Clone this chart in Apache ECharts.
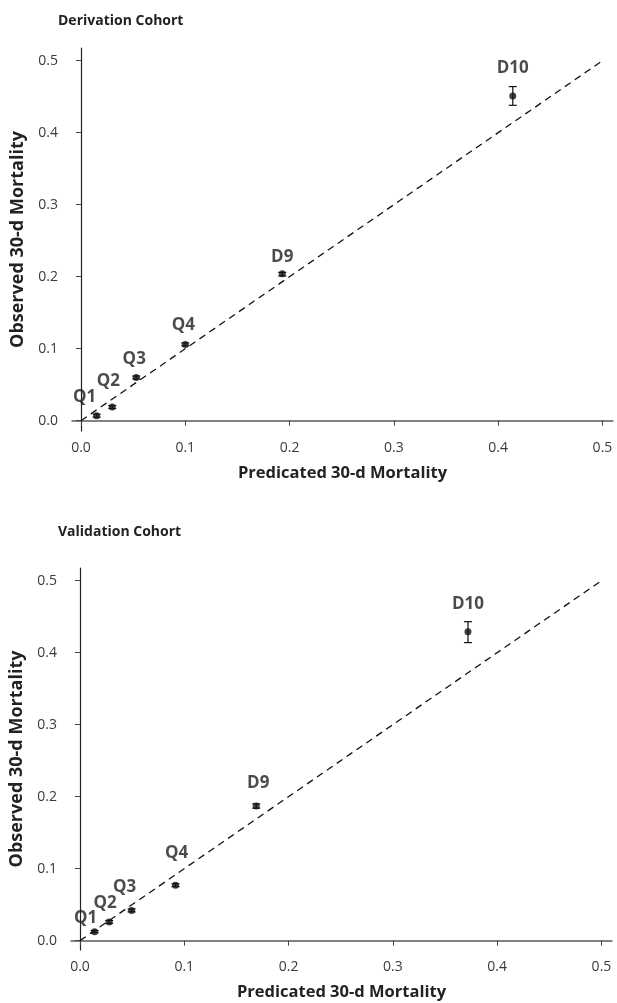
<!DOCTYPE html>
<html>
<head>
<meta charset="utf-8">
<script src="https://cdn.jsdelivr.net/npm/echarts@6/dist/echarts.min.js"></script>
<style>
html,body{margin:0;padding:0;background:#fff;}
#chart{width:617px;height:1003px;}
</style>
</head>
<body>
<div id="chart"></div>
<script>
const groups = ['Q1','Q2','Q3','Q4','D9','D10'];
const tickValues = [0, 0.1, 0.2, 0.3, 0.4, 0.5];
const identityLine = [[0,0],[0.5,0.5]];

const derivPred = [0.015, 0.030, 0.053, 0.100, 0.193, 0.414];
const derivObs  = [0.007, 0.019, 0.060, 0.106, 0.204, 0.451];
const derivLow  = [0.005, 0.017, 0.058, 0.104, 0.201, 0.438];
const derivHigh = [0.009, 0.021, 0.062, 0.108, 0.206, 0.464];

const validPred = [0.014, 0.028, 0.0495, 0.0916, 0.169, 0.372];
const validObs  = [0.0125, 0.026, 0.042, 0.077, 0.187, 0.429];
const validLow  = [0.011, 0.024, 0.040, 0.075, 0.184, 0.414];
const validHigh = [0.014, 0.028, 0.044, 0.079, 0.190, 0.443];

// label placement (pixel offsets of label centre from point)
const derivLabelOffsets = [[-12,-19],[-4,-26],[-2,-18],[-2,-19],[0,-17],[0,-28]];
const validLabelOffsets = [[-9,-13],[-4,-19],[-7,-23],[1,-32],[2,-23],[0,-28]];

const FONT = '"Open Sans", "Noto Sans", sans-serif';

function makeAxes(gi) {
  const x = {
    type: 'value', gridIndex: gi, min: -0.0086, max: 0.5101,
    name: 'Predicated 30-d Mortality', nameLocation: 'middle', nameGap: 34,
    nameTextStyle: {fontFamily: FONT, fontWeight: 'bold', fontSize: 16.5, color: '#222'},
    axisLine: {show: true, lineStyle: {color: '#5a5a5a', width: 1.5}},
    axisTick: {show: true, length: 5, customValues: tickValues, lineStyle: {color: '#444'}},
    axisLabel: {customValues: tickValues, formatter: v => v.toFixed(1), margin: 10,
      fontFamily: FONT, fontSize: 14, color: '#3a3a3a'},
    splitLine: {show: false}
  };
  const y = {
    type: 'value', gridIndex: gi, min: gi === 0 ? -0.0143 : -0.013, max: 0.5176,
    name: 'Observed 30-d Mortality', nameLocation: 'middle', nameGap: 45,
    nameTextStyle: {fontFamily: FONT, fontWeight: 'bold', fontSize: 18, color: '#222'},
    axisLine: {show: true, lineStyle: {color: '#222', width: 1.2}},
    axisTick: {show: true, length: 5, customValues: tickValues, lineStyle: {color: '#444'}},
    axisLabel: {customValues: tickValues, formatter: v => v.toFixed(1), margin: 14,
      fontFamily: FONT, fontSize: 14, color: '#3a3a3a'},
    splitLine: {show: false}
  };
  return {x, y};
}

function makeSeries(gi, pred, obs, low, high, offsets) {
  const pts = pred.map((p, i) => [p, obs[i]]);
  const errs = pred.map((p, i) => [p, low[i], high[i]]);
  return [
    {
      type: 'line', xAxisIndex: gi, yAxisIndex: gi, data: identityLine,
      symbol: 'none', silent: true,
      lineStyle: {color: '#111', width: 1.3, type: [7, 5]}
    },
    {
      type: 'custom', xAxisIndex: gi, yAxisIndex: gi, data: errs,
      renderItem: function (params, api) {
        const x = api.value(0);
        const lo = api.coord([x, api.value(1)]);
        const hi = api.coord([x, api.value(2)]);
        const w = 4;
        const style = {stroke: '#111', lineWidth: 1.2};
        return {type: 'group', children: [
          {type: 'line', shape: {x1: lo[0], y1: lo[1], x2: hi[0], y2: hi[1]}, style},
          {type: 'line', shape: {x1: lo[0]-w, y1: lo[1], x2: lo[0]+w, y2: lo[1]}, style},
          {type: 'line', shape: {x1: hi[0]-w, y1: hi[1], x2: hi[0]+w, y2: hi[1]}, style}
        ]};
      },
      z: 3
    },
    {
      type: 'scatter', xAxisIndex: gi, yAxisIndex: gi,
      data: pts.map((d, i) => ({
        value: d,
        label: {show: true, position: 'inside', offset: offsets[i], formatter: groups[i]}
      })),
      symbol: 'circle', symbolSize: 7,
      itemStyle: {color: '#111'},
      label: {fontFamily: FONT, fontWeight: 'bold', fontSize: 17, color: '#1e1e1e'},
      z: 4
    }
  ];
}

const a0 = makeAxes(0), a1 = makeAxes(1);
const chart = echarts.init(document.getElementById('chart'), null, {renderer: 'canvas'});
chart.setOption({
  backgroundColor: '#fff',
  animation: false,
  title: [
    {text: 'Derivation Cohort', left: 53, top: 9,
      textStyle: {fontFamily: FONT, fontWeight: 'bold', fontSize: 14, color: '#222'}},
    {text: 'Validation Cohort', left: 53, top: 520,
      textStyle: {fontFamily: FONT, fontWeight: 'bold', fontSize: 14, color: '#222'}}
  ],
  grid: [
    {left: 72, top: 48, width: 541, height: 383},
    {left: 71, top: 568, width: 541, height: 382}
  ],
  xAxis: [a0.x, a1.x],
  yAxis: [a0.y, a1.y],
  series: [
    ...makeSeries(0, derivPred, derivObs, derivLow, derivHigh, derivLabelOffsets),
    ...makeSeries(1, validPred, validObs, validLow, validHigh, validLabelOffsets)
  ]
});
</script>
</body>
</html>
